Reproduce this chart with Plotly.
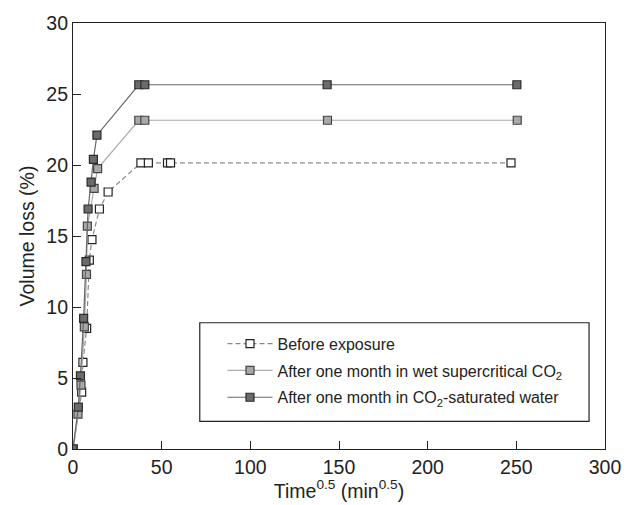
import plotly.graph_objects as go

# Data (x = Time^0.5 in min^0.5, y = volume loss %)
before_x = [0, 4.9, 5.6, 7.7, 9.2, 10.7, 14.9, 19.8, 38.3, 42.5, 53.3, 55.0, 247.0]
before_y = [0, 4.0, 6.1, 8.5, 13.3, 14.75, 16.9, 18.1, 20.15, 20.15, 20.15, 20.15, 20.15]

wet_x = [0, 2.8, 4.5, 6.4, 7.6, 8.1, 11.9, 13.9, 37.1, 40.5, 143.5, 250.5]
wet_y = [0, 2.45, 4.5, 8.6, 12.3, 15.7, 18.35, 19.75, 23.15, 23.15, 23.15, 23.15]

water_x = [0, 3.0, 4.2, 6.0, 7.3, 8.5, 10.2, 11.5, 13.5, 37.1, 40.5, 143.3, 250.3]
water_y = [0, 2.95, 5.15, 9.2, 13.2, 16.9, 18.8, 20.4, 22.1, 25.65, 25.65, 25.65, 25.65]

names = ["Before exposure",
         "After one month in wet supercritical CO<sub>2</sub>",
         "After one month in CO<sub>2</sub>-saturated water"]

x_ticks = [0, 50, 100, 150, 200, 250, 300]
y_ticks = [0, 5, 10, 15, 20, 25, 30]

FONT = "Liberation Sans, Arial, sans-serif"

fig = go.Figure()
fig.add_trace(go.Scatter(
    x=before_x, y=before_y, mode="lines+markers", name=names[0], legendgroup="a",
    line=dict(color="#8a8a8a", width=1.2, dash="5px,3px"),
    marker=dict(symbol="square", size=8, color="white", line=dict(color="#222222", width=1.2)),
))
fig.add_trace(go.Scatter(
    x=wet_x, y=wet_y, mode="lines+markers", name=names[1], legendgroup="b",
    line=dict(color="#ababab", width=1.2),
    marker=dict(symbol="square", size=8, color="#a9a9a9", line=dict(color="#444444", width=1.2)),
))
fig.add_trace(go.Scatter(
    x=water_x, y=water_y, mode="lines+markers", name=names[2], legendgroup="c",
    line=dict(color="#666666", width=1.2),
    marker=dict(symbol="square", size=8, color="#6b6b6b", line=dict(color="#2a2a2a", width=1.2)),
))

# legend frame
fig.add_shape(type="rect", xref="paper", yref="paper",
              x0=0.2383, x1=0.970, y0=0.0649, y1=0.2964,
              line=dict(color="#222222", width=1.2), fillcolor="white", layer="below")

axis_common = dict(
    showline=True, linecolor="#222222", linewidth=1.2, mirror=True,
    ticks="inside", ticklen=8, tickcolor="#222222", tickwidth=1.2,
    showgrid=False, zeroline=False,
    tickfont=dict(family=FONT, size=19.5, color="#222222"),
)

fig.update_layout(
    width=637, height=505,
    margin=dict(l=73, r=32, t=18, b=51),
    paper_bgcolor="white", plot_bgcolor="white",
    font=dict(family=FONT, color="#222222"),
    showlegend=True,
    legend=dict(
        x=0.281, y=0.287, xanchor="left", yanchor="top",
        bgcolor="rgba(0,0,0,0)", borderwidth=0,
        font=dict(family=FONT, size=16, color="#222222"),
        traceorder="grouped", tracegroupgap=3, itemwidth=45,
    ),
    xaxis=dict(range=[0, 300], tickvals=x_ticks, ticktext=[str(v) for v in x_ticks],
               title=dict(text="Time<sup>0.5</sup> (min<sup>0.5</sup>)",
                          font=dict(family=FONT, size=19.5), standoff=2),
               **axis_common),
    yaxis=dict(range=[0, 30], tickvals=y_ticks, ticktext=[str(v) for v in y_ticks],
               title=dict(text="Volume loss (%)", font=dict(family=FONT, size=19.5), standoff=6),
               **axis_common),
)

fig.write_html("out.html")
